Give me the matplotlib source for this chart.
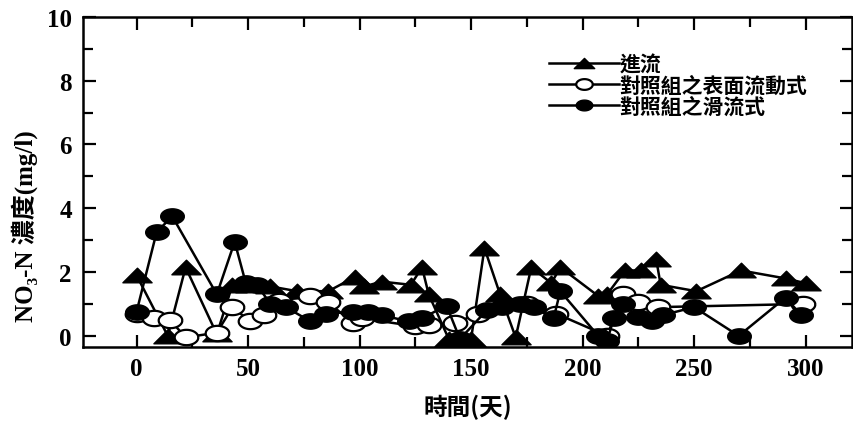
import matplotlib
matplotlib.use("Agg")
import matplotlib.pyplot as plt
import numpy as np
from matplotlib.path import Path
from matplotlib.ticker import MultipleLocator

# ---- data ----
inflow_x = [0, 14, 22, 36, 43, 51, 60, 72, 86, 98, 102, 110, 123, 128, 131, 140, 145, 150,
            156, 163, 170, 177, 186, 190, 207, 211, 219, 226, 233, 235, 251, 271, 291, 300]
inflow_y = [1.9, 0.0, 2.15, 0.05, 1.6, 1.6, 1.55, 1.4, 1.4, 1.85, 1.55, 1.7, 1.6, 2.15, 1.3,
            -0.1, -0.1, -0.1, 2.75, 1.3, -0.05, 2.15, 1.65, 2.15, 1.25, 1.3, 2.05, 2.05, 2.4,
            1.6, 1.4, 2.05, 1.8, 1.65]

surface_x = [0, 8, 15, 22, 36, 43, 51, 57, 64, 78, 86, 97, 101, 125, 131, 143, 153, 175, 188,
             211, 218, 225, 234, 299]
surface_y = [0.7, 0.55, 0.5, -0.05, 0.1, 0.9, 0.45, 0.65, 1.1, 1.25, 1.05, 0.4, 0.55, 0.3,
             0.35, 0.4, 0.7, 1.0, 0.7, 0.0, 1.3, 1.05, 0.9, 1.0]

subsurf_x = [0, 9, 16, 36, 44, 49, 54, 60, 67, 78, 85, 97, 104, 110, 122, 128, 139, 145, 157,
             164, 172, 178, 187, 190, 207, 211, 214, 218, 225, 231, 236, 250, 270, 291, 298]
subsurf_y = [0.75, 3.25, 3.75, 1.3, 2.95, 1.65, 1.6, 1.0, 0.9, 0.45, 0.7, 0.75, 0.75, 0.65,
             0.45, 0.55, 0.95, -0.1, 0.8, 0.9, 1.0, 0.9, 0.55, 1.4, 0.0, -0.15, 0.55, 1.0,
             0.6, 0.45, 0.65, 0.9, 0.0, 1.2, 0.65]

labels = ["進流", "對照組之表面流動式", "對照組之滑流式"]
xticks = [0, 50, 100, 150, 200, 250, 300]
yticks = [0, 2, 4, 6, 8, 10]
xlabel = "時間(天)"
ylabel = "NO\u2083-N 濃度(mg/l)"

# ---- markers: flattened shapes like the scanned original ----
tri = Path([(-1, -0.5), (1, -0.5), (0, 0.5), (-1, -0.5)],
           [Path.MOVETO, Path.LINETO, Path.LINETO, Path.CLOSEPOLY])
t = np.linspace(0, 2 * np.pi, 60)
ell = Path(np.column_stack([np.cos(t), 0.65 * np.sin(t)]))

cjk = ["Noto Sans CJK TC", "DejaVu Sans"]
serif = ["Liberation Serif", "Noto Sans CJK TC", "DejaVu Sans"]

fig = plt.figure(figsize=(8.54, 4.27), dpi=100)
ax = fig.add_axes([0.0972, 0.185, 0.901, 0.773])

ax.plot(inflow_x, inflow_y, color="black", lw=1.8, marker=tri, ms=21,
        mfc="black", mec="black", label=labels[0], zorder=3)
ax.plot(surface_x, surface_y, color="black", lw=1.8, marker=ell, ms=17,
        mfc="white", mec="black", mew=1.6, label=labels[1], zorder=4)
ax.plot(subsurf_x, subsurf_y, color="black", lw=1.8, marker=ell, ms=17,
        mfc="black", mec="black", label=labels[2], zorder=5)

ax.set_xlim(-24, 321)
ax.set_ylim(-0.35, 10)
ax.set_xticks(xticks)
ax.set_yticks(yticks)
ax.xaxis.set_minor_locator(MultipleLocator(25))
ax.yaxis.set_minor_locator(MultipleLocator(1))
ax.tick_params(which="both", direction="in", top=True, right=True, width=1.6)
ax.tick_params(which="major", length=9)
ax.tick_params(which="minor", length=7)
ax.tick_params(axis="x", which="major", pad=7)
ax.tick_params(axis="y", which="major", pad=8)
for lab in ax.get_xticklabels() + ax.get_yticklabels():
    lab.set_fontfamily(serif)
    lab.set_fontweight("bold")
    lab.set_fontsize(18)
for s in ax.spines.values():
    s.set_linewidth(1.8)

ax.set_xlabel(xlabel, family=cjk, fontweight="bold", fontsize=17, labelpad=10)
ax.set_ylabel(ylabel, family=serif, fontweight="bold", fontsize=18)
ax.yaxis.set_label_coords(-0.058, 0.37)

leg = ax.legend(loc="upper left", bbox_to_anchor=(0.605, 0.89), frameon=False,
                prop={"family": cjk, "weight": "bold", "size": 15},
                handlelength=3.4, handletextpad=0.0, borderpad=0, borderaxespad=0,
                labelspacing=0.0, markerscale=0.7)

fig.savefig("out.png", dpi=100)
